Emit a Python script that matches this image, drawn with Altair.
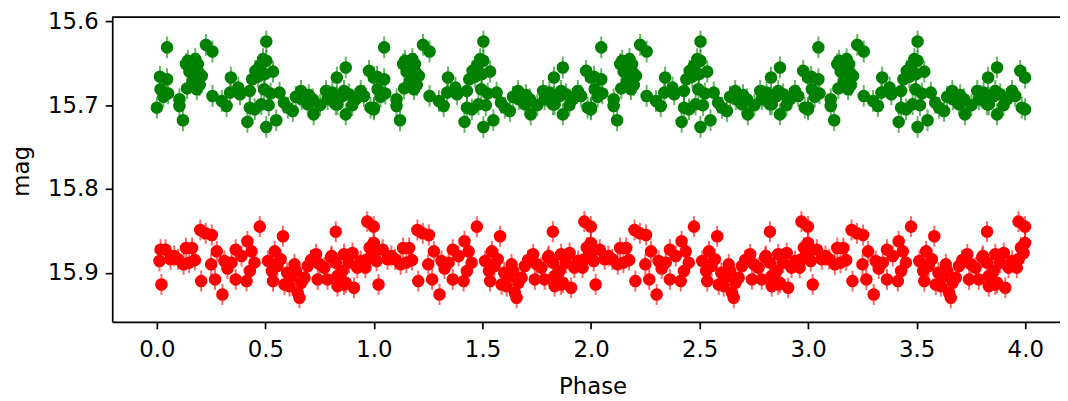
import altair as alt
import pandas as pd

# One cycle of the phase-folded light curve (phase 0..1); it is shown over 4 cycles
phase_g = [0.000, 0.014, 0.017, 0.030, 0.047, 0.047, 0.052, 0.104, 0.104, 0.120,
           0.134, 0.139, 0.143, 0.150, 0.165, 0.177, 0.184, 0.184, 0.189, 0.192,
           0.197, 0.207, 0.226, 0.256, 0.256, 0.299, 0.321, 0.337, 0.341, 0.375,
           0.383, 0.417, 0.428, 0.428, 0.439, 0.451, 0.454, 0.466, 0.474, 0.481,
           0.489, 0.494, 0.497, 0.504, 0.504, 0.504, 0.515, 0.524, 0.535, 0.550,
           0.565, 0.585, 0.603, 0.626, 0.640, 0.664, 0.667, 0.695, 0.700, 0.718,
           0.722, 0.752, 0.779, 0.786, 0.795, 0.808, 0.824, 0.829, 0.829, 0.832,
           0.855, 0.862, 0.870, 0.870, 0.885, 0.900, 0.916, 0.939, 0.954, 0.977,
           0.984, 0.999, 0.999]
mag_g = [15.703, 15.666, 15.681, 15.690, 15.631, 15.669, 15.686, 15.693, 15.701, 15.718,
         15.651, 15.680, 15.647, 15.660, 15.672, 15.645, 15.671, 15.681, 15.651, 15.661,
         15.676, 15.665, 15.628, 15.636, 15.689, 15.695, 15.701, 15.685, 15.667, 15.679,
         15.687, 15.720, 15.683, 15.703, 15.669, 15.705, 15.659, 15.666, 15.653, 15.699,
         15.645, 15.681, 15.663, 15.624, 15.647, 15.726, 15.700, 15.686, 15.660, 15.718,
         15.685, 15.697, 15.703, 15.707, 15.690, 15.683, 15.693, 15.699, 15.688, 15.693,
         15.711, 15.700, 15.683, 15.693, 15.689, 15.685, 15.699, 15.667, 15.691, 15.699,
         15.689, 15.683, 15.655, 15.711, 15.687, 15.700, 15.693, 15.683, 15.689, 15.659,
         15.703, 15.705, 15.667]

phase_r = [0.012, 0.017, 0.021, 0.040, 0.063, 0.080, 0.097, 0.123, 0.134, 0.149,
           0.162, 0.175, 0.200, 0.204, 0.225, 0.250, 0.253, 0.268, 0.276, 0.302,
           0.311, 0.325, 0.344, 0.363, 0.363, 0.390, 0.413, 0.417, 0.428, 0.436,
           0.450, 0.474, 0.512, 0.530, 0.535, 0.543, 0.555, 0.570, 0.581, 0.588,
           0.600, 0.611, 0.620, 0.634, 0.641, 0.649, 0.657, 0.665, 0.680, 0.695,
           0.710, 0.733, 0.741, 0.750, 0.771, 0.786, 0.802, 0.805, 0.824, 0.824,
           0.832, 0.832, 0.855, 0.862, 0.862, 0.870, 0.885, 0.901, 0.908, 0.923,
           0.940, 0.961, 0.969, 0.969, 0.980, 0.992, 0.999, 0.999]
mag_r = [15.886, 15.8725, 15.914, 15.8725, 15.884, 15.880, 15.884, 15.890, 15.8705, 15.888,
         15.8705, 15.885, 15.849, 15.910, 15.853, 15.890, 15.855, 15.908, 15.8745, 15.926,
         15.886, 15.895, 15.888, 15.8725, 15.908, 15.880, 15.910, 15.8625, 15.898, 15.8745,
         15.888, 15.845, 15.886, 15.898, 15.910, 15.8745, 15.892, 15.884, 15.8565, 15.914,
         15.900, 15.916, 15.905, 15.890, 15.898, 15.924, 15.930, 15.912, 15.906, 15.892,
         15.885, 15.878, 15.908, 15.890, 15.894, 15.908, 15.882, 15.880, 15.851, 15.888,
         15.904, 15.916, 15.898, 15.878, 15.914, 15.912, 15.888, 15.8765, 15.918, 15.894,
         15.886, 15.894, 15.839, 15.884, 15.870, 15.8765, 15.845, 15.8645]

err_g = 0.013
err_r = 0.0125
cycles = [0, 1, 2, 3]
x_ticks = [0.0, 0.5, 1.0, 1.5, 2.0, 2.5, 3.0, 3.5, 4.0]
y_ticks = [15.6, 15.7, 15.8, 15.9]

rows = []
for c in cycles:
    for p, m in zip(phase_g, mag_g):
        rows.append({"phase": p + c, "mag": m, "lo": m - err_g, "hi": m + err_g, "band": "g"})
    for p, m in zip(phase_r, mag_r):
        rows.append({"phase": p + c, "mag": m, "lo": m - err_r, "hi": m + err_r, "band": "r"})
df = pd.DataFrame(rows)

W = 955
H = 307
FONT = "DejaVu Sans"

xscale = alt.Scale(domain=[-0.2057, 4.16], nice=False, zero=False)
yscale = alt.Scale(domain=[15.5949, 15.9586], reverse=True, nice=False, zero=False)
cscale = alt.Scale(domain=["g", "r"], range=["green", "red"])

xaxis = alt.Axis(values=x_ticks, format=".1f", title="Phase", grid=False,
                 titleX=484, titleY=72, titleBaseline="alphabetic", titleAnchor="start",
                 titleAlign="center", labelPadding=10)
yaxis = alt.Axis(values=y_ticks, format=".1f", title="mag", grid=False,
                 titleX=-84, titleY=155, titleAngle=270, titleBaseline="alphabetic",
                 titleAlign="center", labelPadding=7)

base = alt.Chart(df)

bars = base.mark_rule(strokeWidth=2, opacity=0.6).encode(
    x=alt.X("phase:Q", scale=xscale, axis=xaxis),
    y=alt.Y("lo:Q", scale=yscale, axis=yaxis),
    y2="hi:Q",
    color=alt.Color("band:N", scale=cscale, legend=None),
)

points = base.mark_circle(size=160, opacity=1).encode(
    x=alt.X("phase:Q", scale=xscale, axis=xaxis),
    y=alt.Y("mag:Q", scale=yscale, axis=yaxis),
    color=alt.Color("band:N", scale=cscale, legend=None),
)

top = alt.Chart(pd.DataFrame({"a": [0]})).mark_rule(color="black", strokeWidth=1.7).encode(
    x=alt.value(0), x2=alt.value(W), y=alt.value(0)
)

chart = alt.layer(bars, points, top).properties(
    width=W, height=H,
    autosize=alt.AutoSizeParams(type="none"),
    padding={"left": 105, "top": 7.7, "right": 0, "bottom": 78},
).configure_view(stroke=None).configure_axis(
    domainColor="black", domainWidth=1.7, tickColor="black", tickWidth=1.7, tickSize=7,
    labelFont=FONT, labelFontSize=23, labelColor="black",
    titleFont=FONT, titleFontSize=23, titleFontWeight="normal", titleColor="black",
)

chart.save("out.html", embed_options={"renderer": "svg", "actions": False})
